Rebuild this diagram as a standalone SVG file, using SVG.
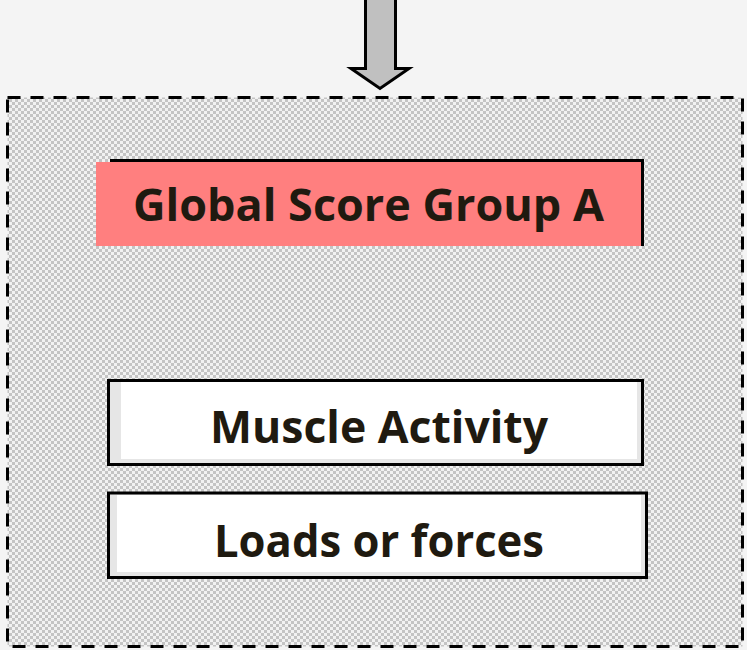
<svg xmlns="http://www.w3.org/2000/svg" width="747" height="650" viewBox="0 0 747 650">
<defs>
<pattern id="chk" width="6" height="6" patternUnits="userSpaceOnUse">
<rect width="6" height="6" fill="#f2f2f2"/>
<rect width="3" height="3" fill="#c4c4c4"/>
<rect x="3" y="3" width="3" height="3" fill="#c4c4c4"/>
</pattern>
<style>
.lbl{font-family:"Open Sans","Liberation Sans",sans-serif;font-weight:bold;font-size:44px;fill:#1f1a10;text-anchor:middle}
.box{fill:#e6e6e6;stroke:#000;stroke-width:3}
</style>
</defs>
<rect width="747" height="650" fill="#f4f4f4"/>
<g id="container">
<rect x="7.5" y="97.5" width="735" height="549" fill="url(#chk)" stroke="#000" stroke-width="3" stroke-dasharray="13 10"/>
</g>
<g id="connectors">
<path d="M365.5,-2 V68.5 H351 L380,88.5 L409,68.5 H395.5 V-2 Z" fill="#c0c0c0" stroke="#000" stroke-width="3" stroke-linejoin="miter"/>
</g>
<g id="global-score">
<rect x="110" y="159" width="534" height="87" fill="#000"/>
<rect x="96" y="162" width="545" height="84" fill="#ff7f7f"/>
<text class="lbl" x="368.5" y="221" textLength="471" lengthAdjust="spacingAndGlyphs">Global Score Group A</text>
</g>
<g id="muscle-activity">
<rect class="box" x="108.5" y="380.5" width="534" height="84"/>
<rect x="121" y="382" width="516" height="77" fill="#fff"/>
<text class="lbl" x="379" y="443" textLength="338" lengthAdjust="spacingAndGlyphs">Muscle Activity</text>
</g>
<g id="loads-forces">
<rect class="box" x="108.5" y="493" width="538" height="84.5"/>
<rect x="117" y="495" width="524" height="77" fill="#fff"/>
<text class="lbl" x="379" y="557" textLength="330" lengthAdjust="spacingAndGlyphs">Loads or forces</text>
</g>
</svg>
